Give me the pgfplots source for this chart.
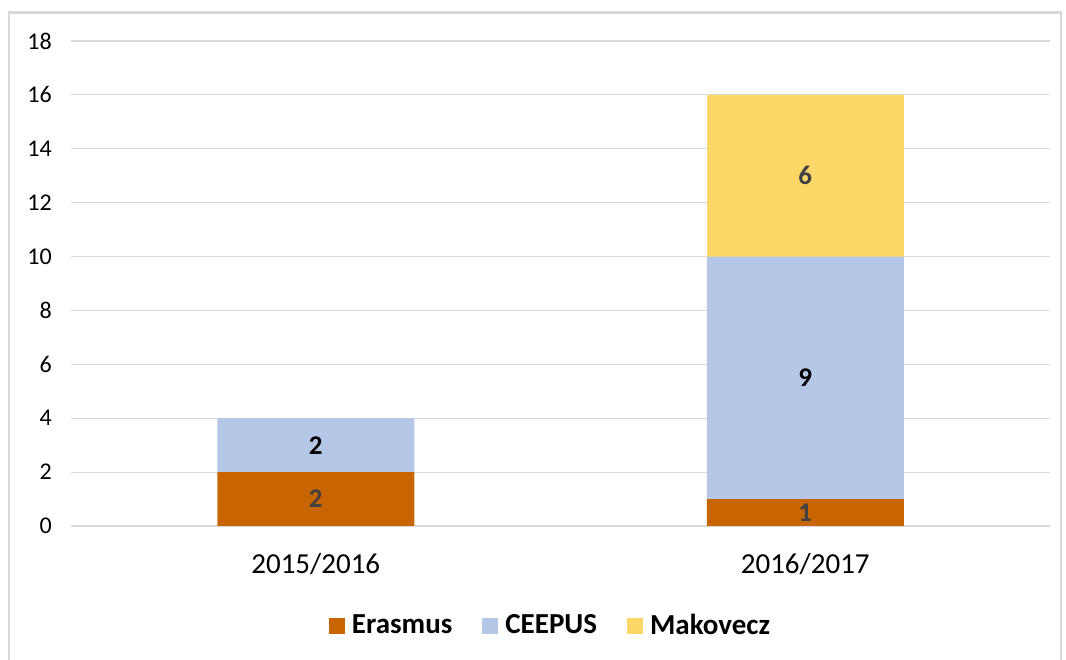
\documentclass[border=0pt]{standalone}
\usepackage{pgfplots}
\pgfplotsset{compat=1.18}
\usepackage{fontspec}
\setmainfont{Carlito}
\definecolor{erasmus}{HTML}{C96500}
\definecolor{ceepus}{HTML}{B4C7E7}
\definecolor{makovecz}{HTML}{FDD869}
\definecolor{gridgray}{HTML}{D9D9D9}
\definecolor{lbl}{HTML}{404040}
\begin{document}
\begin{tikzpicture}
\useasboundingbox (0,0) rectangle (1066pt,659pt);
\draw[gridgray, line width=2.5pt] (9pt,-5pt) -- (9pt,646.5pt) -- (1061pt,646.5pt) -- (1061pt,-5pt);
\begin{axis}[
  at={(71pt,133pt)}, anchor=south west,
  scale only axis, width=979pt, height=485pt,
  ybar stacked, bar width=197pt,
  xmin=-0.5, xmax=1.5, ymin=0, ymax=18,
  xtick={0,1}, xticklabels={2015/2016,2016/2017},
  ytick={0,2,...,18},
  ymajorgrids, grid style={gridgray, line width=1.2pt},
  axis line style={draw=none}, major tick length=0pt,
  /pgf/number format/assume math mode=true,
  yticklabel style={font=\fontsize{24}{27}\selectfont, anchor=east, inner sep=0pt, xshift=-19pt},
  xticklabel style={font=\fontsize{29}{32}\selectfont, anchor=base, inner sep=0pt, yshift=-47pt},
  nodes near coords,
  point meta=explicit symbolic,
  every node near coord/.append style={font=\bfseries\fontsize{27}{30}\selectfont, anchor=center},
  legend style={at={(0.4888,-0.204)}, anchor=center, draw=none, legend columns=3,
    font=\bfseries\fontsize{29}{32}\selectfont, nodes={inner sep=0pt},
    /tikz/every odd column/.append style={column sep=7pt},
    /tikz/every even column/.append style={column sep=30pt}},
  legend image code/.code={\fill[#1] (0pt,-9pt) rectangle (16pt,7pt);},
]
\addplot[fill=erasmus, draw=none, every node near coord/.append style={text=lbl}] coordinates {(0,2) [2] (1,1) [1]};
\addplot[fill=ceepus, draw=none, every node near coord/.append style={text=black}] coordinates {(0,2) [2] (1,9) [9]};
\addplot[fill=makovecz, draw=none, every node near coord/.append style={text=lbl}] coordinates {(0,0) [] (1,6) [6]};
\legend{Erasmus, CEEPUS, Makovecz}
\end{axis}
\end{tikzpicture}
\end{document}
